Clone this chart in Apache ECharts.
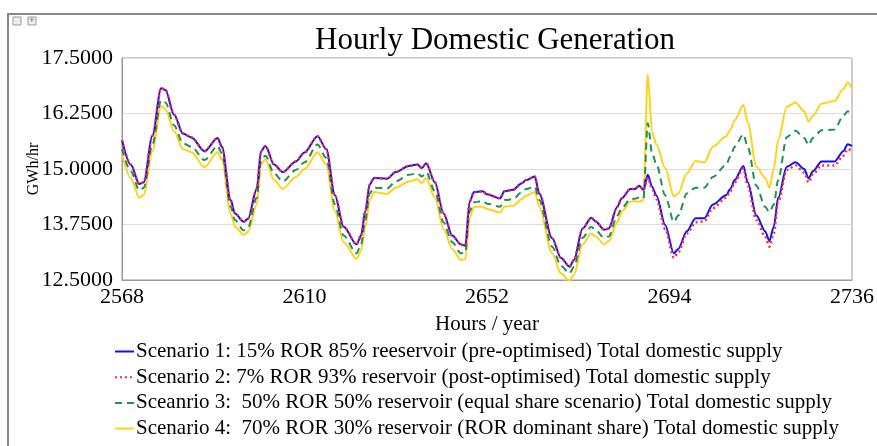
<!DOCTYPE html>
<html>
<head>
<meta charset="utf-8">
<script src="https://cdn.jsdelivr.net/npm/echarts@6/dist/echarts.min.js"></script>
<style>
  html, body { margin: 0; padding: 0; background: #fff; }
  #chart { width: 877px; height: 446px; }
</style>
</head>
<body>
<div id="chart"></div>
<script>
// hours (x) shared by all four scenarios
var hours = [2568, 2570, 2572, 2573, 2575, 2577, 2578, 2580, 2582, 2584, 2587, 2590, 2591, 2593, 2594, 2596, 2597, 2599, 2600, 2601,
  2603, 2605, 2608, 2610, 2613, 2615, 2617, 2619, 2622, 2623, 2624, 2625, 2626, 2629, 2631, 2634, 2636, 2637, 2638, 2640,
  2642, 2644, 2646, 2647, 2648, 2649, 2651, 2652, 2655, 2656, 2658, 2660, 2661, 2663, 2664, 2667, 2669, 2671, 2672, 2674,
  2676, 2677, 2679, 2680, 2682, 2683, 2685, 2686, 2687, 2688, 2689, 2690, 2691, 2693, 2695, 2696, 2698, 2700, 2702, 2704,
  2707, 2708, 2709, 2711, 2712, 2714, 2716, 2717, 2718, 2719, 2721, 2723, 2725, 2726, 2727, 2729, 2732, 2734, 2735, 2736];

var scenario1 = [15.65, 15.10, 14.66, 14.70, 15.75, 16.82, 16.78, 16.22, 15.80, 15.71, 15.40, 15.70, 15.50, 14.30, 14.00, 13.81, 13.88, 14.55, 15.40, 15.52,
  15.10, 14.93, 15.17, 15.37, 15.74, 15.45, 14.41, 13.70, 13.30, 13.50, 14.05, 14.65, 14.80, 14.78, 14.93, 15.07, 15.10, 15.02, 15.13, 14.70,
  14.00, 13.50, 13.30, 13.27, 14.26, 14.48, 14.50, 14.43, 14.34, 14.50, 14.53, 14.68, 14.75, 14.83, 14.45, 13.44, 13.00, 12.80, 12.95, 13.66,
  13.90, 13.82, 13.63, 13.66, 14.15, 14.34, 14.55, 14.55, 14.62, 14.53, 14.87, 14.60, 14.40, 13.74, 13.10, 13.20, 13.60, 13.89, 13.89, 14.20,
  14.41, 14.55, 14.75, 15.07, 14.70, 13.95, 13.60, 13.38, 13.70, 14.35, 15.05, 15.15, 15.00, 14.79, 14.95, 15.17, 15.17, 15.40, 15.56, 15.52];

var scenario2 = [15.65, 15.10, 14.66, 14.70, 15.75, 16.82, 16.78, 16.22, 15.80, 15.71, 15.40, 15.70, 15.50, 14.30, 14.00, 13.81, 13.88, 14.55, 15.40, 15.52,
  15.10, 14.93, 15.17, 15.37, 15.74, 15.45, 14.41, 13.70, 13.30, 13.50, 14.05, 14.65, 14.80, 14.78, 14.93, 15.07, 15.10, 15.02, 15.13, 14.70,
  14.00, 13.50, 13.30, 13.27, 14.26, 14.48, 14.50, 14.43, 14.34, 14.50, 14.53, 14.68, 14.75, 14.83, 14.45, 13.44, 13.00, 12.80, 12.95, 13.66,
  13.90, 13.82, 13.63, 13.66, 14.15, 14.34, 14.55, 14.55, 14.62, 14.53, 14.80, 14.55, 14.32, 13.65, 13.00, 13.12, 13.55, 13.80, 13.82, 14.12,
  14.35, 14.50, 14.70, 15.02, 14.62, 13.85, 13.48, 13.25, 13.55, 14.25, 14.98, 15.08, 14.92, 14.70, 14.88, 15.08, 15.08, 15.30, 15.45, 15.40];

var scenario3 = [15.45, 14.95, 14.52, 14.58, 15.55, 16.55, 16.50, 15.98, 15.58, 15.50, 15.20, 15.52, 15.35, 14.15, 13.85, 13.62, 13.68, 14.35, 15.20, 15.30,
  14.90, 14.72, 14.98, 15.15, 15.55, 15.25, 14.20, 13.50, 13.10, 13.30, 13.85, 14.45, 14.58, 14.56, 14.72, 14.87, 14.90, 14.83, 14.93, 14.50,
  13.80, 13.35, 13.10, 13.12, 14.05, 14.25, 14.28, 14.22, 14.15, 14.30, 14.32, 14.48, 14.55, 14.60, 14.30, 13.25, 12.82, 12.65, 12.80, 13.45,
  13.70, 13.62, 13.45, 13.48, 13.95, 14.12, 14.32, 14.33, 14.36, 14.34, 16.03, 15.35, 15.10, 14.41, 13.81, 13.95, 14.45, 14.58, 14.58, 14.82,
  15.09, 15.28, 15.50, 15.78, 15.50, 14.62, 14.15, 14.03, 14.20, 14.75, 15.72, 15.86, 15.70, 15.54, 15.70, 15.87, 15.89, 16.20, 16.30, 16.25];

var scenario4 = [15.35, 14.80, 14.35, 14.42, 15.40, 16.42, 16.35, 15.85, 15.45, 15.38, 15.04, 15.38, 15.20, 14.00, 13.70, 13.52, 13.58, 14.20, 15.10, 15.22,
  14.75, 14.55, 14.82, 15.00, 15.37, 15.10, 14.05, 13.35, 12.98, 13.15, 13.70, 14.30, 14.48, 14.44, 14.58, 14.72, 14.77, 14.68, 14.80, 14.35,
  13.65, 13.20, 12.95, 12.97, 13.90, 14.15, 14.15, 14.10, 14.02, 14.15, 14.17, 14.32, 14.40, 14.48, 14.15, 13.10, 12.65, 12.48, 12.62, 13.30,
  13.55, 13.48, 13.30, 13.38, 13.80, 14.04, 14.26, 14.28, 14.26, 14.30, 17.13, 15.82, 15.55, 15.02, 14.38, 14.45, 14.90, 15.18, 15.15, 15.50,
  15.73, 15.88, 16.10, 16.44, 16.05, 15.05, 14.80, 14.58, 15.00, 15.65, 16.40, 16.50, 16.30, 16.07, 16.20, 16.47, 16.53, 16.80, 16.95, 16.82];

var seriesNames = [
  'Scenario 1: 15% ROR 85% reeservoir (pre-optimised) Total domestic supply',
  'Scenario 2: 7% ROR 93% reservoir (post-optimised) Total domestic supply',
  'Sceanrio 3:  50% ROR 50% reservoir (equal share scenario) Total domestic supply',
  'Scenario 4:  70% ROR 30% reservoir (ROR dominant share) Total domestic supply'
];

var serif = '"Liberation Serif", "DejaVu Serif", serif';

function pairs(values) {
  return hours.map(function (h, i) { return [h, values[i]]; });
}

function lineSeries(name, values, color, type, width, z) {
  return {
    name: name,
    type: 'line',
    data: pairs(values),
    symbol: 'none',
    smooth: 0.3,
    smoothMonotone: 'x',
    z: z,
    lineStyle: { color: color, width: width, type: type },
    itemStyle: { color: color }
  };
}

// one legend box per row so the long labels stay in a single column
function legendRow(i) {
  return {
    orient: 'horizontal',
    left: 114,
    top: 341 + i * 25.7,
    itemWidth: 19,
    itemHeight: 12,
    padding: 0,
    itemStyle: { opacity: 0 },
    data: [seriesNames[i]],
    textStyle: { fontFamily: serif, fontSize: 21, color: '#000', padding: [0, 0, 0, -3] }
  };
}

var chart = echarts.init(document.getElementById('chart'), null, { renderer: 'canvas' });

var option = {
  animation: false,
  backgroundColor: '#fff',
  title: {
    text: 'Hourly Domestic Generation',
    left: 490,
    textAlign: 'center',
    top: 20,
    textStyle: { fontFamily: serif, fontSize: 31, fontWeight: 'normal', color: '#000' }
  },
  graphic: [
    { type: 'polyline', shape: { points: [[8, 446], [8, 14], [877, 14]] }, style: { stroke: '#888', lineWidth: 2, fill: null } },
    { type: 'rect', shape: { x: 13, y: 17, width: 8, height: 8 }, style: { stroke: '#999', fill: '#eee', lineWidth: 1 } },
    { type: 'rect', shape: { x: 28, y: 17, width: 8, height: 8 }, style: { stroke: '#999', fill: '#eee', lineWidth: 1 } },
    { type: 'text', style: { x: 32, y: 21, text: '+', fontSize: 9, fill: '#666', align: 'center', verticalAlign: 'middle' } }
  ],
  grid: {
    left: 122, right: 20, top: 58, bottom: 166,
    show: true, borderColor: '#999', borderWidth: 1
  },
  legend: [legendRow(0), legendRow(1), legendRow(2), legendRow(3)],
  xAxis: {
    type: 'value',
    min: 2568,
    max: 2736,
    interval: 42,
    name: 'Hours / year',
    nameLocation: 'middle',
    nameGap: 34,
    nameTextStyle: { fontFamily: serif, fontSize: 21, color: '#000' },
    axisLine: { lineStyle: { color: '#999' } },
    axisTick: { show: false },
    splitLine: { show: false },
    axisLabel: {
      fontFamily: serif, fontSize: 22, color: '#000', margin: 6,
      formatter: function (v) { return String(v); }
    }
  },
  yAxis: {
    type: 'value',
    min: 12.5,
    max: 17.5,
    interval: 1.25,
    name: 'GWh/hr',
    nameLocation: 'middle',
    nameGap: 80,
    nameMoveOverlap: false,
    nameTextStyle: { fontFamily: serif, fontSize: 16, color: '#000' },
    axisLine: { show: true, lineStyle: { color: '#999' } },
    axisTick: { show: false },
    splitLine: { lineStyle: { color: '#ddd', width: 1 } },
    axisLabel: {
      fontFamily: serif, fontSize: 22, color: '#000', margin: 9,
      formatter: function (v) { return v.toFixed(4); }
    }
  },
  series: [
    lineSeries(seriesNames[0], scenario1, '#1010f0', 'solid', 2, 3),
    lineSeries(seriesNames[1], scenario2, '#ff2a3a', [2, 3], 2.5, 4),
    lineSeries(seriesNames[2], scenario3, '#1e9050', [7, 5], 2, 2),
    lineSeries(seriesNames[3], scenario4, '#ffd21a', 'solid', 2, 1)
  ]
};

chart.setOption(option);
</script>
</body>
</html>
